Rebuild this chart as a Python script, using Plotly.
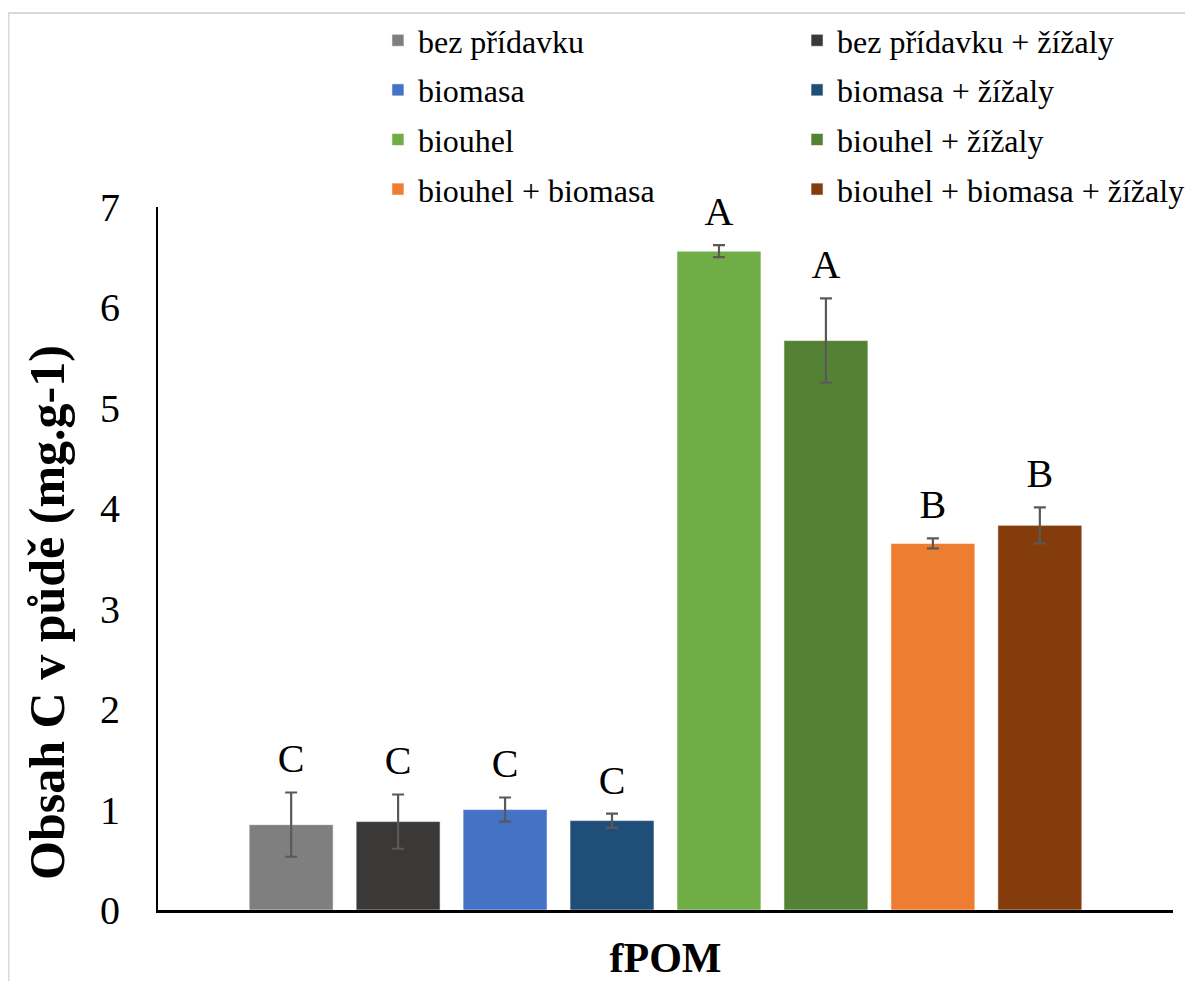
import plotly.graph_objects as go

# ---- data ----
category = ["fPOM"]
series = [
    "bez přídavku",
    "bez přídavku + žížaly",
    "biomasa",
    "biomasa + žížaly",
    "biouhel",
    "biouhel + žížaly",
    "biouhel + biomasa",
    "biouhel + biomasa + žížaly",
]
values = [0.85, 0.88, 1.00, 0.89, 6.56, 5.67, 3.65, 3.83]
errors = [0.32, 0.27, 0.12, 0.07, 0.06, 0.42, 0.05, 0.18]
letters = ["C", "C", "C", "C", "A", "A", "B", "B"]
y_ticks = [0, 1, 2, 3, 4, 5, 6, 7]
y_title = "Obsah C v půdě (mg.g-1)"

colors = ["#7f7f7f", "#3b3938", "#4472c4", "#1f4e79",
          "#70ad47", "#548235", "#ed7d31", "#843c0c"]

FONT = "Liberation Serif"
LABEL_PAD = 0.08  # gap between error-bar top and letter (axis units)

fig = go.Figure()

for i, name in enumerate(series):
    leg = "legend" if i % 2 == 0 else "legend2"
    fig.add_trace(go.Bar(
        x=category, y=[values[i]], name=name,
        offsetgroup=str(i), legendgroup=name, legend=leg,
        marker=dict(color=colors[i], line=dict(color="rgba(255,255,255,0.55)", width=1)),
        error_y=dict(type="data", array=[errors[i]], visible=True,
                     color="#595959", thickness=2.2, width=6),
    ))

# invisible helper bars reaching just above each error bar, carrying the significance letters
for i, name in enumerate(series):
    fig.add_trace(go.Bar(
        x=category, y=[values[i] + errors[i] + LABEL_PAD], name=name + " label",
        offsetgroup=str(i), showlegend=False, hoverinfo="skip",
        marker=dict(color="rgba(0,0,0,0)", line=dict(width=0)),
        text=[letters[i]], textposition="outside", cliponaxis=False,
        textfont=dict(family=FONT, size=40, color="black"),
    ))

fig.update_layout(
    width=1177, height=973,
    margin=dict(l=150, r=12, t=199, b=71, autoexpand=False),
    paper_bgcolor="white", plot_bgcolor="white",
    barmode="group", bargap=0.157, bargroupgap=0.215,
    font=dict(family=FONT, color="black"),
    legend=dict(x=0.2167, y=1.276, xanchor="left", yanchor="top",
                orientation="v", tracegroupgap=5, itemwidth=30,
                font=dict(family=FONT, size=32, color="black"),
                bgcolor="rgba(0,0,0,0)"),
    legend2=dict(x=0.6296, y=1.276, xanchor="left", yanchor="top",
                 orientation="v", tracegroupgap=5, itemwidth=30,
                 font=dict(family=FONT, size=32, color="black"),
                 bgcolor="rgba(0,0,0,0)"),
    xaxis=dict(type="category", showline=True, linecolor="black", linewidth=2.5,
               showgrid=False, automargin=False,
               ticks="outside", ticklen=9, tickcolor="rgba(0,0,0,0)",
               tickfont=dict(family=FONT, size=42, color="black", weight="bold")),
    yaxis=dict(range=[0, 7], tickvals=y_ticks, showline=True, linecolor="black",
               linewidth=2, showgrid=False, zeroline=False, automargin=False,
               ticks="outside", ticklen=28, tickcolor="rgba(0,0,0,0)",
               tickfont=dict(family=FONT, size=40, color="black")),
    annotations=[dict(text="<b>" + y_title + "</b>", textangle=-90,
                      xref="paper", yref="paper", x=-0.1094, y=0.424,
                      xanchor="center", yanchor="middle",
                      showarrow=False,
                      font=dict(family=FONT, size=50, color="black"))],
    shapes=[dict(type="rect", xref="paper", yref="paper",
                 x0=-0.1473, x1=1.04, y0=-0.13, y1=1.276,
                 line=dict(color="#d9d9d9", width=2), layer="below")],
)

fig.write_html("out.html")
